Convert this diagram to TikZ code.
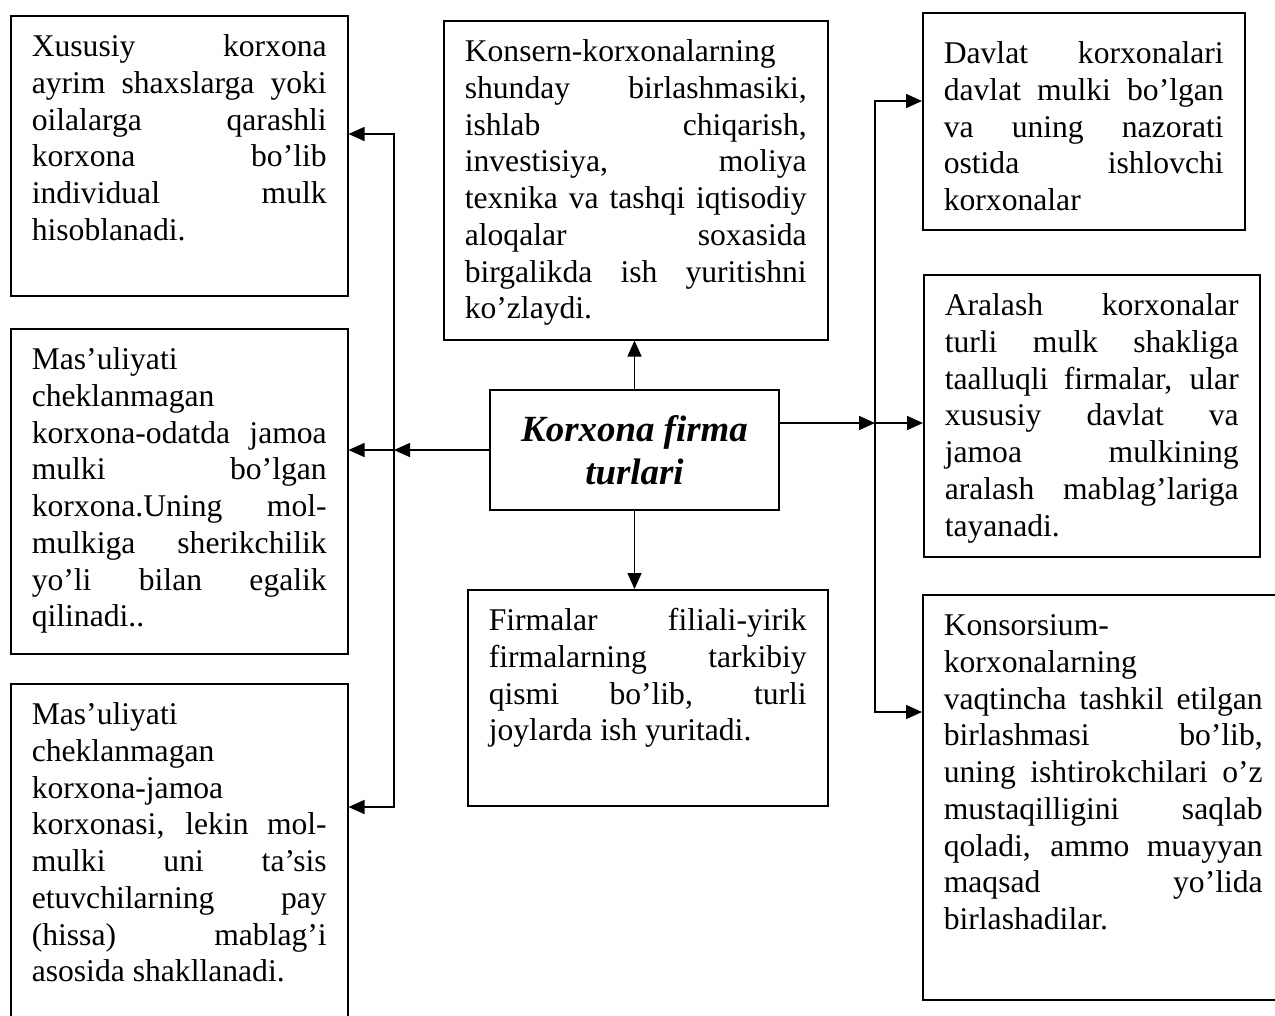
\documentclass[tikz,border=0pt]{standalone}
\usepackage{fontspec}
\setmainfont{Liberation Serif}
\usetikzlibrary{arrows.meta}
\tolerance=10000
\pretolerance=10000
\hbadness=10000

\begin{document}
\begin{tikzpicture}[x=0.02cm, y=-0.02cm, line width=0.9pt,
	>={Triangle[length=0.32cm,width=0.28cm]},
	boite/.style={draw, anchor=north west, inner xsep=0.42cm, inner ysep=0.3cm,
		text height=0.52cm, align=justify, font=\fontsize{18}{20.9}\selectfont}]
			\useasboundingbox (0,0) rectangle (1275,1015);

			% Le centre
			\node[draw, minimum width=5.78cm, minimum height=2.4cm, align=center,
				font=\bfseries\itshape\fontsize{21}{24.5}\selectfont] (korx) at (634.5,450) {Korxona firma\\turlari};

			% Les boites de gauche
			\node[boite, text width=5.9cm, text depth=4.48cm] (xus) at (10,15)
				{Xususiy korxona\linebreak ayrim shaxslarga yoki\linebreak oilalarga qarashli\linebreak korxona bo’lib\linebreak individual mulk\linebreak hisoblanadi.};
			\node[boite, text width=5.9cm, text depth=5.38cm] (mas) at (10,328)
				{Mas’uliyati\\cheklanmagan\\korxona-odatda jamoa\linebreak mulki bo’lgan\linebreak korxona.Uning mol-\linebreak mulkiga sherikchilik\linebreak yo’li bilan egalik\linebreak qilinadi..};
			\node[boite, text width=5.9cm, text depth=6.08cm] (mash) at (10,683)
				{Mas’uliyati\\cheklanmagan\\korxona-jamoa\\korxonasi, lekin mol-\linebreak mulki uni ta’sis\linebreak etuvchilarning pay\linebreak (hissa) mablag’i\linebreak asosida shakllanadi.};

			% Les boites du milieu
			\node[boite, text width=6.84cm, text depth=5.26cm] (kons) at (443,20)
				{Konsern-korxonalarning\\shunday birlashmasiki,\linebreak ishlab chiqarish,\linebreak investisiya, moliya\linebreak texnika va tashqi iqtisodiy\linebreak aloqalar soxasida\linebreak birgalikda ish yuritishni\linebreak ko’zlaydi.};
			\node[boite, text width=6.36cm, text depth=3.2cm] (fil) at (467,589)
				{Firmalar filiali-yirik\linebreak firmalarning tarkibiy\linebreak qismi bo’lib, turli\linebreak joylarda ish yuritadi.};

			% Les boites de droite
			\node[boite, text width=5.6cm, text height=0.72cm, text depth=3.02cm] (dav) at (922,12)
				{Davlat korxonalari\linebreak davlat mulki bo’lgan\linebreak va uning nazorati\linebreak ostida ishlovchi\linebreak korxonalar};
			\node[boite, text width=5.88cm, text depth=4.52cm] (ara) at (923,274)
				{Aralash korxonalar\linebreak turli mulk shakliga\linebreak taalluqli firmalar, ular\linebreak xususiy davlat va\linebreak jamoa mulkining\linebreak aralash mablag’lariga\linebreak tayanadi.};
			\node[boite, text width=6.38cm, text depth=6.98cm] (konsor) at (922,594)
				{Konsorsium-\\korxonalarning\\vaqtincha tashkil etilgan\linebreak birlashmasi bo’lib,\linebreak uning ishtirokchilari o’z\linebreak mustaqilligini saqlab\linebreak qoladi, ammo muayyan\linebreak maqsad yo’lida\linebreak birlashadilar.};

			% Les fleches
			\coordinate (g1) at (394,134);
			\coordinate (g2) at (394,450);
			\coordinate (g3) at (394,807);
			\coordinate (d1) at (875,101);
			\coordinate (d2) at (875,423);
			\coordinate (d3) at (875,712);

			\draw[<->] (g1 -| xus.east) -- (g1) -- (g3) -- (g3 -| mash.east);
			\draw[->] (korx.west) -- (g2);
			\draw[->] (g2) -- (g2 -| mas.east);

			\draw[<->] (d1 -| dav.west) -- (d1) -- (d3) -- (d3 -| konsor.west);
			\draw[->] (korx.east |- d2) -- (d2);
			\draw[->] (d2) -- (d2 -| ara.west);

			\draw[->] (korx.north) -- (korx.north |- kons.south);
			\draw[->] (korx.south) -- (korx.south |- fil.north);
		\end{tikzpicture}
\end{document}
